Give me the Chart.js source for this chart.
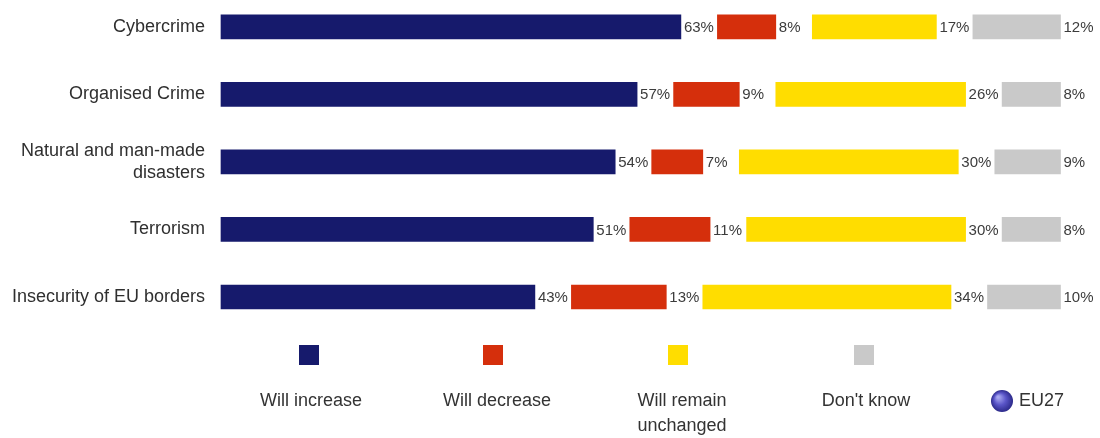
<!DOCTYPE html>
<html>
<head>
<meta charset="utf-8">
<script src="https://cdn.jsdelivr.net/npm/chart.js@4"></script>
<style>
  html, body { margin: 0; padding: 0; background: #ffffff; }
  #wrap { width: 1100px; height: 438px; position: relative; }
</style>
</head>
<body>
<div id="wrap"><canvas id="c" width="1100" height="438"></canvas></div>
<script>
const categories = ["Cybercrime", "Organised Crime", ["Natural and man-made", "disasters"], "Terrorism", "Insecurity of EU borders"];
const willIncrease = [63, 57, 54, 51, 43];
const willDecrease = [8, 9, 7, 11, 13];
const willRemain = [17, 26, 30, 30, 34];
const dontKnow = [12, 8, 9, 8, 10];
const seriesNames = ["Will increase", "Will decrease", ["Will remain", "unchanged"], "Don't know"];
const seriesColors = ["#161a6c", "#d52f0c", "#ffdd00", "#c9c9c9"];
const gapUnits = 5;
const axisMax = 120;

const FONT = "'Liberation Sans', Arial, sans-serif";
const gap = categories.map(() => gapUnits);

function real(label, data, color) {
  return { label, data, backgroundColor: color, borderWidth: 0, barThickness: 24, isReal: true, clip: false };
}
function spacer(data) {
  return { label: "", data, backgroundColor: "rgba(0,0,0,0)", borderWidth: 0, barThickness: 24, isReal: false, clip: false };
}

const valueLabels = {
  id: "valueLabels",
  afterDatasetsDraw(chart) {
    const ctx = chart.ctx;
    ctx.save();
    ctx.font = "15px " + FONT;
    ctx.fillStyle = "#3c3c3c";
    ctx.textAlign = "left";
    ctx.textBaseline = "middle";
    chart.data.datasets.forEach((ds, i) => {
      if (!ds.isReal) return;
      const meta = chart.getDatasetMeta(i);
      meta.data.forEach((el, j) => {
        ctx.fillText(ds.data[j] + "%", el.x + 3, el.y + 1);
      });
    });
    ctx.restore();
  }
};

const bottomLegend = {
  id: "bottomLegend",
  afterDraw(chart) {
    const ctx = chart.ctx;
    ctx.save();
    const sqX = [309, 493, 678, 864];
    const txtX = [311, 497, 682, 866];
    seriesNames.forEach((name, i) => {
      ctx.fillStyle = seriesColors[i];
      ctx.fillRect(sqX[i] - 10, 345, 20, 20);
      ctx.fillStyle = "#333333";
      ctx.font = "18px " + FONT;
      ctx.textAlign = "center";
      ctx.textBaseline = "middle";
      const lines = Array.isArray(name) ? name : [name];
      lines.forEach((ln, k) => ctx.fillText(ln, txtX[i], 401 + k * 25));
    });
    // EU27 marker
    const cx = 1002, cy = 401, r = 11;
    const g = ctx.createRadialGradient(cx - 4, cy - 4, 1, cx, cy, r);
    g.addColorStop(0, "#a8a8f0");
    g.addColorStop(0.5, "#5a55c8");
    g.addColorStop(1, "#2c2a8a");
    ctx.fillStyle = g;
    ctx.beginPath();
    ctx.arc(cx, cy, r, 0, Math.PI * 2);
    ctx.fill();
    ctx.fillStyle = "#333333";
    ctx.font = "18px " + FONT;
    ctx.textAlign = "left";
    ctx.fillText("EU27", 1019, 401);
    ctx.restore();
  }
};

new Chart(document.getElementById("c"), {
  type: "bar",
  data: {
    labels: categories,
    datasets: [
      real("Will increase", willIncrease, seriesColors[0]),
      spacer(gap),
      real("Will decrease", willDecrease, seriesColors[1]),
      spacer(gap),
      real("Will remain unchanged", willRemain, seriesColors[2]),
      spacer(gap),
      real("Don't know", dontKnow, seriesColors[3])
    ]
  },
  options: {
    indexAxis: "y",
    responsive: false,
    animation: false,
    devicePixelRatio: 1,
    layout: { padding: { top: 24, bottom: 141, left: 0, right: 3 } },
    plugins: { legend: { display: false }, tooltip: { enabled: false } },
    scales: {
      x: { stacked: true, display: false, min: 0, max: axisMax },
      y: {
        stacked: true,
        offset: false,
        grid: { display: false, drawTicks: false },
        border: { display: false },
        ticks: { font: { family: FONT, size: 18 }, color: "#2f2f2f", padding: 16, autoSkip: false },
        afterFit(scale) { scale.width = 221; }
      }
    }
  },
  plugins: [valueLabels, bottomLegend]
});
</script>
</body>
</html>
